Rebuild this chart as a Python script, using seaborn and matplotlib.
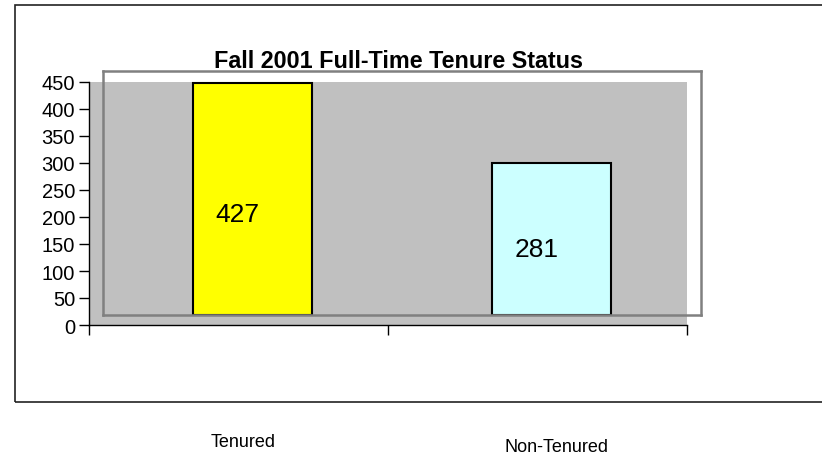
import matplotlib
matplotlib.use("Agg")
import matplotlib.pyplot as plt
from matplotlib.patches import Rectangle
import seaborn as sns
import pandas as pd

categories = ["Tenured", "Non-Tenured"]
counts = [427, 281]
bar_colors = ["#FFFF00", "#CCFFFF"]
y_ticks = [0, 50, 100, 150, 200, 250, 300, 350, 400, 450]
title = "Fall 2001 Full-Time Tenure Status"

sns.set_theme(style="white")
plt.rcParams["font.family"] = ["Liberation Sans", "DejaVu Sans"]
plt.rcParams["text.color"] = "black"

W, H = 822, 456
fig = plt.figure(figsize=(W / 100, H / 100), dpi=100)
fig.patch.set_facecolor("white")


def px_box(x0, y0, x1, y1):
    return [x0 / W, 1 - y1 / H, (x1 - x0) / W, (y1 - y0) / H]


# outer chart-area border
fig.add_artist(Rectangle((15 / W, 1 - 403 / H), (830 - 15) / W, (403 - 6) / H,
                         transform=fig.transFigure, fill=False,
                         edgecolor="#222222", linewidth=1.2))

# value axis with grey wall
ax_bg = fig.add_axes(px_box(89, 83, 687, 326))
ax_bg.set_facecolor("#C0C0C0")
ax_bg.set_xlim(-0.5, 1.5)
ax_bg.set_ylim(y_ticks[0], y_ticks[-1])
ax_bg.set_yticks(y_ticks)
ax_bg.set_yticklabels([str(t) for t in y_ticks], fontsize=14.5)
ax_bg.set_xticks([-0.5, 0.5, 1.5])
ax_bg.set_xticklabels([])
ax_bg.tick_params(axis="both", direction="out", length=7, width=1,
                  color="black", labelcolor="black",
                  left=True, bottom=True, pad=3)
for side in ["top", "right"]:
    ax_bg.spines[side].set_visible(False)
for side in ["left", "bottom"]:
    ax_bg.spines[side].set_color("black")
    ax_bg.spines[side].set_linewidth(1)

# plot frame holding the bars
ax = fig.add_axes(px_box(103, 72, 701, 316))
ax.patch.set_alpha(0)
df = pd.DataFrame({"status": categories, "count": counts})
sns.barplot(data=df, x="status", y="count", hue="status",
            palette=bar_colors, saturation=1, width=0.4, edgecolor="black",
            linewidth=1.5, legend=False, ax=ax)
ax.set_xlim(-0.5, 1.5)
ax.set_ylim(y_ticks[0], y_ticks[-1])
ax.set_xticks([])
ax.set_yticks([])
ax.set_xlabel("")
ax.set_ylabel("")
for side in ["top", "right", "bottom", "left"]:
    ax.spines[side].set_visible(True)
    ax.spines[side].set_color("#808080")
    ax.spines[side].set_linewidth(1.8)

for i, v in enumerate(counts):
    ax.text(i - 0.05, v * 0.435, str(v), ha="center", va="center",
            fontsize=19, color="black")

fig.text(398 / W, 1 - 61 / H, title, ha="center", va="center",
         fontsize=16.8, fontweight="bold", color="black")

# category names below the chart area
label_pos = [(243, 443), (556, 448)]
for name, (lx, ly) in zip(categories, label_pos):
    fig.text(lx / W, 1 - ly / H, name, ha="center", va="center",
             fontsize=13, color="black")

fig.savefig("out.png", dpi=100, facecolor="white")
